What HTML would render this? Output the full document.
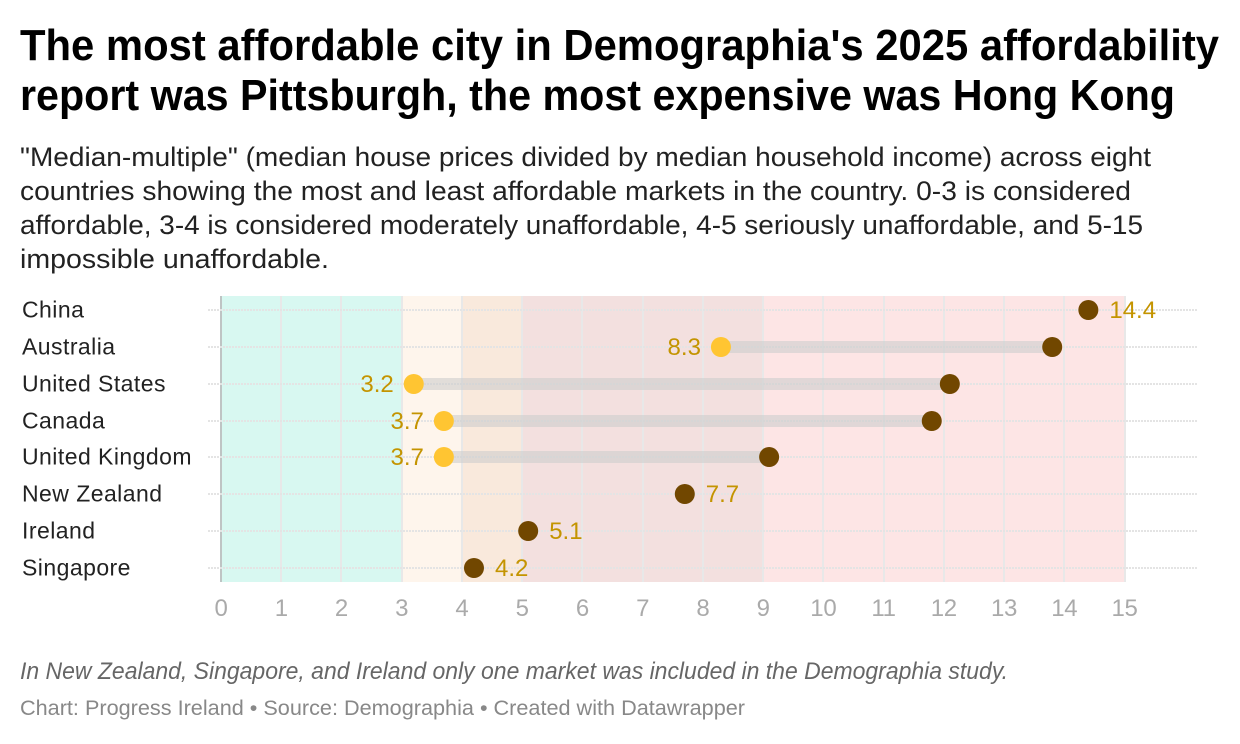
<!DOCTYPE html>
<html>
<head>
<meta charset="utf-8">
<title>Demographia affordability</title>
<style>
html,body{margin:0;padding:0;background:#fff;}
svg{display:block;font-family:"Liberation Sans",sans-serif;}
</style>
</head>
<body>
<svg id="chart" width="1240" height="744" viewBox="0 0 1240 744" xmlns="http://www.w3.org/2000/svg">
  <g font-size="44" font-weight="700" fill="#000">
    <text x="20" y="60" textLength="1199" lengthAdjust="spacingAndGlyphs">The most affordable city in Demographia's 2025 affordability</text>
    <text x="20" y="110" textLength="1155" lengthAdjust="spacingAndGlyphs">report was Pittsburgh, the most expensive was Hong Kong</text>
  </g>
  <g font-size="27" fill="#222">
    <text x="20" y="166" textLength="1131" lengthAdjust="spacingAndGlyphs">"Median-multiple" (median house prices divided by median household income) across eight</text>
    <text x="20" y="200" textLength="1111" lengthAdjust="spacingAndGlyphs">countries showing the most and least affordable markets in the country. 0-3 is considered</text>
    <text x="20" y="234" textLength="1123" lengthAdjust="spacingAndGlyphs">affordable, 3-4 is considered moderately unaffordable, 4-5 seriously unaffordable, and 5-15</text>
    <text x="20" y="268" textLength="309" lengthAdjust="spacingAndGlyphs">impossible unaffordable.</text>
  </g>
  <g id="plot"></g>
  <text x="20" y="679" font-size="24" font-style="italic" fill="#666" textLength="988" lengthAdjust="spacingAndGlyphs">In New Zealand, Singapore, and Ireland only one market was included in the Demographia study.</text>
  <text x="20" y="715" font-size="21.5" fill="#888" textLength="725" lengthAdjust="spacingAndGlyphs">Chart: Progress Ireland • Source: Demographia • Created with Datawrapper</text>
</svg>
<script>
const countries = ["China","Australia","United States","Canada","United Kingdom","New Zealand","Ireland","Singapore"];
const lowValues = [null,8.3,3.2,3.7,3.7,null,null,null];
const highValues = [14.4,13.8,12.1,11.8,9.1,7.7,5.1,4.2];
const axisTicks = [0,1,2,3,4,5,6,7,8,9,10,11,12,13,14,15];
const bandStarts = [0,3,4,5,9];
const bandEnds = [3,4,5,9,15];
const bandColors = ["#d8f8f1","#fef5ec","#f9e9dc","#f3e0df","#fde5e5"];

const plot = document.getElementById('plot');
const NS = 'http://www.w3.org/2000/svg';
const x = v => 221 + v * (1124.5 - 221) / 15;
const y = i => Math.round(310 + i * 36.86);
const top_ = 296, bottom = 582;

function make(tag, attrs, text) {
  const el = document.createElementNS(NS, tag);
  for (const k in attrs) el.setAttribute(k, attrs[k]);
  if (text !== undefined) el.textContent = text;
  plot.appendChild(el);
  return el;
}

bandStarts.forEach((s, i) => {
  const el = make('rect', {x: Math.round(x(s)), y: top_, width: Math.round(x(bandEnds[i])) - Math.round(x(s)), height: bottom - top_, fill: bandColors[i]});
  
  
});

axisTicks.forEach(t => {
  const line = make('line', {x1: Math.round(x(t)), x2: Math.round(x(t)), y1: top_, y2: bottom, stroke: t === 0 ? '#bfc4c4' : '#e8e8e8', 'stroke-width': 2});
  
  
  const label = make('text', {x: x(t), y: 616, 'text-anchor': 'middle', 'font-size': 24, 'letter-spacing': -0.3, fill: '#aaa'}, String(t));
  
  
});

countries.forEach((c, i) => {
  const row = make('line', {x1: 208, x2: 1198, y1: y(i), y2: y(i), stroke: '#e4e4e4', 'stroke-width': 2, 'stroke-dasharray': '2 1'});
  
  
  const name = make('text', {x: 22, y: y(i) + 7.5, 'font-size': 23, 'letter-spacing': 0.45, fill: '#222'}, c);
  
  
});

countries.forEach((c, i) => {
  const lo = lowValues[i], hi = highValues[i];
  if (lo !== null) {
    const bar = make('rect', {x: x(lo), y: y(i) - 6, width: x(hi) - x(lo), height: 12, fill: 'rgba(205,205,205,0.6)'});
    
    
    const dot = make('circle', {cx: x(lo), cy: y(i), r: 10, fill: '#ffc532'});
    
    
    const lab = make('text', {x: x(lo) - 20, y: y(i) + 8, 'text-anchor': 'end', 'font-size': 24, fill: '#c49400'}, lo.toFixed(1));
    
    
  }
  const dot2 = make('circle', {cx: x(hi), cy: y(i), r: 10, fill: '#714700'});
  
  
  if (lo === null) {
    const lab2 = make('text', {x: x(hi) + 21, y: y(i) + 8, 'font-size': 24, fill: '#c49400'}, hi.toFixed(1));
    
    
  }
});
</script>
</body>
</html>
